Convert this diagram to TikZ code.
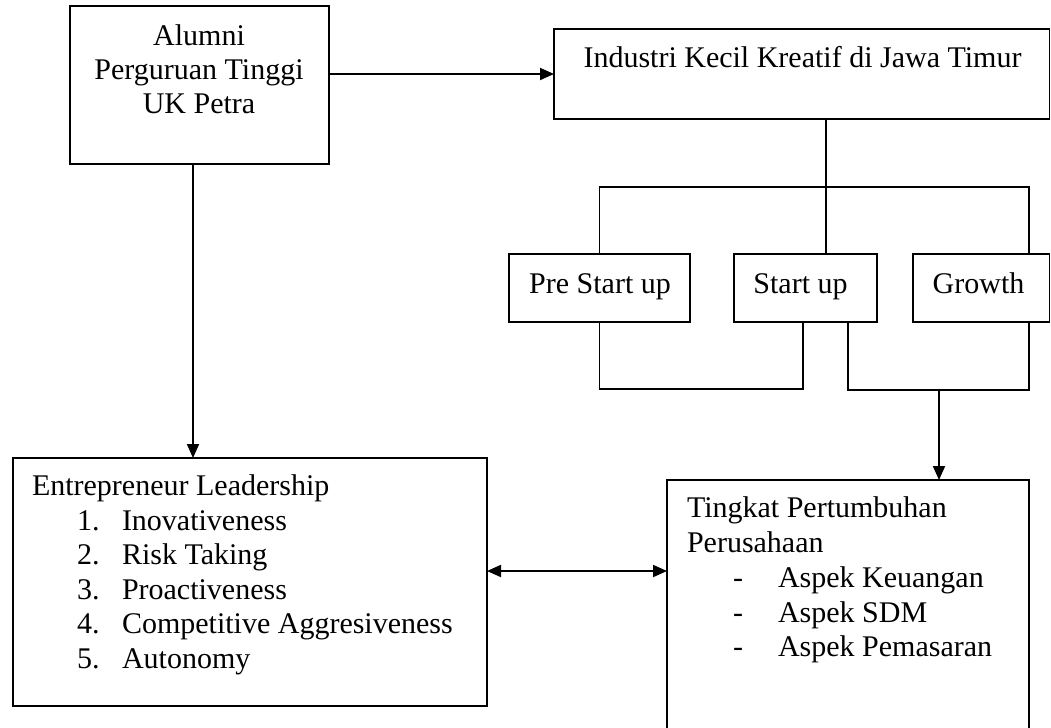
\documentclass[tikz,border=0pt]{standalone}
\usepackage{fontspec}
\setmainfont{Liberation Serif}
\usetikzlibrary{arrows.meta}
\begin{document}
\begin{tikzpicture}[x=0.4pt, y=-0.4pt,
  box/.style={draw, line width=0.75pt, inner sep=0pt, outer sep=0pt},
  txt/.style={inner sep=0pt, outer sep=0pt, font=\fontsize{12pt}{13.8pt}\selectfont},
  ctxt/.style={txt, anchor=base},
  ltxt/.style={txt, anchor=base west},
  conn/.style={line width=0.75pt},
  arr/.style={conn, -{Triangle[length=5.6pt,width=4.8pt]}},
  darr/.style={conn, {Triangle[length=5.6pt,width=4.8pt]}-{Triangle[length=5.6pt,width=4.8pt]}}]
\useasboundingbox (0,0) rectangle (1051,727);
\clip (0,0) rectangle (1051,727);

% boxes
\node[box, minimum width=103.6pt, minimum height=63.2pt] (alumni) at (199.5,85) {};
\node[box, minimum width=198.2pt, minimum height=36pt] (ind) at (801.75,74) {};
\node[box, minimum width=72.4pt, minimum height=27.2pt] (pre) at (599.5,288) {};
\node[box, minimum width=57.2pt, minimum height=27.2pt] (start) at (805.5,288) {};
\node[box, minimum width=54.6pt, minimum height=27.2pt] (growth) at (981.25,288) {};
\node[box, minimum width=189.6pt, minimum height=99.2pt] (entre) at (250,582) {};
\node[box, minimum width=144.8pt, minimum height=112pt] (tingkat) at (848,620) {};

% texts
\node[ctxt] (t-al1) at (199,45.5) {Alumni};
\node[ctxt] (t-al2) at (199,79.5) {Perguruan Tinggi};
\node[ctxt] (t-al3) at (199,113.5) {UK Petra};
\node[ctxt] (t-ind) at (802.5,67) {Industri Kecil Kreatif di Jawa Timur};
\node[ctxt] (t-pre) at (600,293.3) {Pre Start up};
\node[ctxt] (t-start) at (800.5,293.3) {Start up};
\node[ctxt] (t-growth) at (978.5,293.3) {Growth};

\node[ltxt] (t-en) at (32,495.7) {Entrepreneur Leadership};
\node[ltxt] (n1) at (77,530) {1.};
\node[ltxt] (i1) at (122,530) {Inovativeness};
\node[ltxt] (n2) at (77,564.5) {2.};
\node[ltxt] (i2) at (122,564.5) {Risk Taking};
\node[ltxt] (n3) at (77,599) {3.};
\node[ltxt] (i3) at (122,599) {Proactiveness};
\node[ltxt] (n4) at (77,633.5) {4.};
\node[ltxt] (i4) at (122,633.5) {Competitive Aggresiveness};
\node[ltxt] (n5) at (77,668) {5.};
\node[ltxt] (i5) at (122,668) {Autonomy};

\node[ltxt] (t-ti1) at (687,517) {Tingkat Pertumbuhan};
\node[ltxt] (t-ti2) at (687,552.5) {Perusahaan};
\node[ltxt] (d1) at (733,587.5) {-};
\node[ltxt] (a1) at (778,587.5) {Aspek Keuangan};
\node[ltxt] (d2) at (733,622) {-};
\node[ltxt] (a2) at (778,622) {Aspek SDM};
\node[ltxt] (d3) at (733,656.5) {-};
\node[ltxt] (a3) at (778,656.5) {Aspek Pemasaran};

% helper coordinates
\coordinate (ax) at (193,0);
\coordinate (bC) at (826,187);
\coordinate (bR) at (1029,187);
\coordinate (j1) at (803,389);
\coordinate (j2) at (848,390);
\coordinate (j3) at (1029,390);
\coordinate (j4) at (939,390);
\coordinate (m) at (577,571);

% connectors
\draw[arr] (alumni.east |- ind.west) -- (ind.west);
\draw[arr] (alumni.south -| ax) -- (entre.north -| ax);
\draw[conn] (ind.south -| bC) -- (bC) -- (bC |- start.north);
\draw[conn] (pre.north) -- (pre.north |- bC) -- (bR) -- (bR |- growth.north);
\draw[conn] (pre.south) -- (pre.south |- j1) -- (j1) -- (j1 |- start.south);
\draw[conn] (j2 |- start.south) -- (j2) -- (j3) -- (j3 |- growth.south);
\draw[arr] (j4) -- (j4 |- tingkat.north);
\draw[darr] (entre.east |- m) -- (tingkat.west |- m);
\end{tikzpicture}
\end{document}
